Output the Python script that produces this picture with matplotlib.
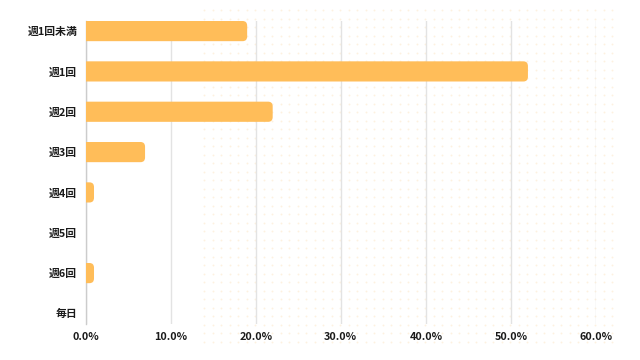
"""
Horizontal bar chart of weekly frequency (percent of respondents)
"""
import numpy as np
import matplotlib
matplotlib.use('Agg')
import matplotlib.pyplot as plt
from matplotlib.patches import FancyBboxPatch
from matplotlib.ticker import FuncFormatter

categories = ['週1回未満', '週1回', '週2回', '週3回', '週4回', '週5回', '週6回', '毎日']
values = [19.0, 52.0, 22.0, 7.0, 1.0, 0.0, 1.0, 0.0]
xticks = [0, 10, 20, 30, 40, 50, 60]

bar_colour = '#FFBD59'
fontsize = 7.8
plt.rcParams['font.family'] = ['Noto Sans CJK JP', 'DejaVu Sans']

fig = plt.figure(figsize=(6.4, 3.6), dpi=100)

# Faint dotted background pattern on the right part of the figure
bg = fig.add_axes([0, 0, 1, 1], zorder=0)
bg.set_xlim(0, 640)
bg.set_ylim(360, 0)
bg.axis('off')
gx, gy = np.meshgrid(np.arange(204, 616, 8.5), np.arange(10, 342, 8.5))
bg.scatter(gx.ravel(), gy.ravel(), s=1.8, color='#FDF1E0', linewidths=0)

ax = fig.add_axes([85.5 / 640, 1 - 323.5 / 360, (596 - 85.5) / 640, (323.5 - 21) / 360],
                  zorder=1)
ax.patch.set_alpha(0)

y = np.arange(len(categories))
bars = ax.barh(y, values, height=0.5, color=bar_colour, alpha=0)

ax.set_xlim(0, 60)
ax.set_ylim(len(categories) - 0.75, -0.25)

# Rounded ends: px per data unit in x and y
px_x = ax.bbox.width / 60
px_y = ax.bbox.height / len(categories)
r = 4.5
for b, v in zip(bars, values):
    if v <= 0:
        continue
    p = FancyBboxPatch((-r / px_x, b.get_y()), v + r / px_x, b.get_height(),
                       boxstyle=f'round,pad=0,rounding_size={r / px_x}',
                       mutation_aspect=px_x / px_y,
                       facecolor=bar_colour, edgecolor='none', zorder=3)
    ax.add_patch(p)

ax.set_yticks(y)
ax.set_yticklabels(categories, fontsize=fontsize, fontweight='bold', color='#1a1a1a')
ax.set_xticks(xticks)
ax.xaxis.set_major_formatter(FuncFormatter(lambda v, _: f'{v:.1f}%'))
for lab in ax.get_xticklabels():
    lab.set_fontsize(fontsize)
    lab.set_fontweight('bold')
    lab.set_color('#1a1a1a')

ax.tick_params(axis='both', length=0)
ax.tick_params(axis='y', pad=6)
ax.tick_params(axis='x', pad=6)
ax.grid(axis='x', color='#e3e3e3', linewidth=1)
ax.set_axisbelow(True)
for s in ['top', 'right', 'bottom']:
    ax.spines[s].set_visible(False)
ax.spines['left'].set_color('#cccccc')
ax.spines['left'].set_linewidth(1)

plt.savefig('out.png', dpi=100)
